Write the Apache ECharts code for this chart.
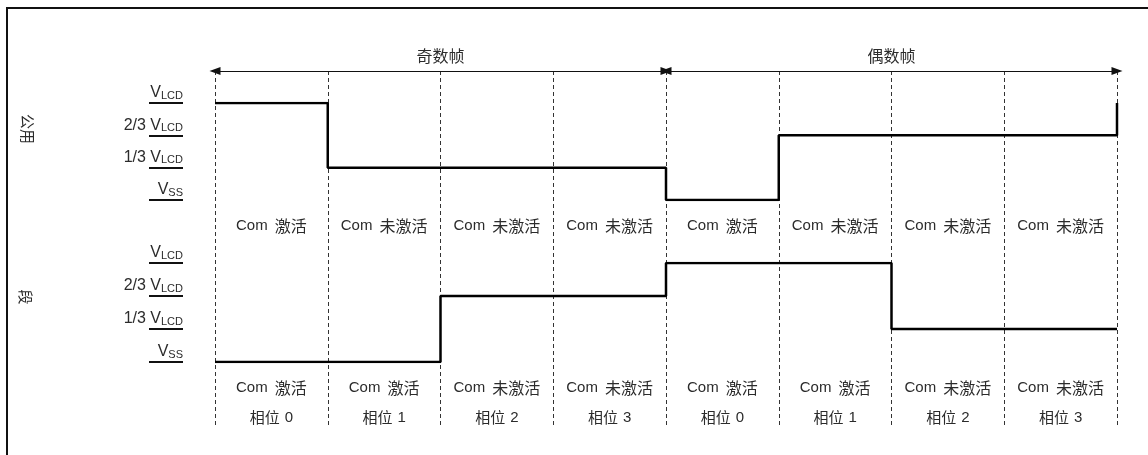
<!DOCTYPE html>
<html>
<head>
<meta charset="utf-8">
<script src="https://cdn.jsdelivr.net/npm/echarts@6/dist/echarts.min.js"></script>
<style>
  html, body { margin: 0; padding: 0; background: #fff; }
  #chart { width: 1148px; height: 455px; }
</style>
</head>
<body>
<div id="chart"></div>
<script>
// 帧 / 相位
const frameNames = ["奇数帧", "偶数帧"];
const frameBounds = [0, 4, 8];
const phases = ["相位 0", "相位 1", "相位 2", "相位 3", "相位 0", "相位 1", "相位 2", "相位 3"];

// 电平：0 = Vss, 1 = 1/3 VLCD, 2 = 2/3 VLCD, 3 = VLCD
const levelPrefix = ["", "1/3 ", "2/3 ", ""];
const levelSub = ["SS", "LCD", "LCD", "LCD"];

// 公用 波形（最后一个值是结束边界处的电平）
const comLevels = [3, 1, 1, 1, 0, 2, 2, 2, 3];
const comStates = ["Com 激活", "Com 未激活", "Com 未激活", "Com 未激活", "Com 激活", "Com 未激活", "Com 未激活", "Com 未激活"];

// 段 波形
const segLevels = [0, 0, 2, 2, 3, 3, 1, 1, 1];
const segStates = ["Com 激活", "Com 激活", "Com 未激活", "Com 未激活", "Com 激活", "Com 激活", "Com 未激活", "Com 未激活"];

const LATIN = "Liberation Sans, Arial, sans-serif";
const CJK = "Noto Sans CJK SC, sans-serif";
const TEXT = "#2b2b2b";

const chart = echarts.init(document.getElementById("chart"));

// 刻度标签：V 带下标
const levelFormatter = (v) => {
  return (levelPrefix[v] ? "{f|" + levelPrefix[v] + "}" : "") + "{v|V}{s|" + levelSub[v] + "}";
};
const levelRich = {
  f: { fontFamily: LATIN, fontSize: 16, color: TEXT, verticalAlign: "bottom", padding: [0, 0, 2, 0] },
  v: { fontFamily: LATIN, fontSize: 16, color: TEXT, verticalAlign: "bottom", padding: [0, 0, 2, 0] },
  s: { fontFamily: LATIN, fontSize: 11, color: TEXT, verticalAlign: "bottom", padding: [0, 0, 2, 0] },
};
const stateFormatter = (s) => {
  const i = s.indexOf(" ");
  return "{a|" + s.slice(0, i) + "}{b|" + s.slice(i + 1) + "}";
};
const stateRich = {
  a: { fontFamily: LATIN, fontSize: 15, color: TEXT, padding: [0, 7, 0, 0] },
  b: { fontFamily: CJK, fontSize: 16, color: TEXT },
};
const phaseRich = {
  a: { fontFamily: CJK, fontSize: 15, color: TEXT, padding: [0, 5, 0, 0] },
  b: { fontFamily: LATIN, fontSize: 15, color: TEXT },
};

// 左侧电平刻度（放在单独的窄 grid 里，下划线 = 刻度线）
const levelAxis = (gridIndex) => ({
  type: "value",
  gridIndex: gridIndex,
  min: 0,
  max: 3,
  interval: 1,
  axisLine: { show: false },
  axisTick: { show: true, length: 34, lineStyle: { color: "#111", width: 2 } },
  axisLabel: {
    margin: 0,
    verticalAlign: "bottom",
    formatter: levelFormatter,
    rich: levelRich,
  },
  splitLine: { show: false },
});

const hiddenY = (gridIndex, max) => ({
  type: "value",
  gridIndex: gridIndex,
  min: 0,
  max: max,
  show: false,
});

const hiddenX = (gridIndex) => ({
  type: "value",
  gridIndex: gridIndex,
  min: 0,
  max: 8,
  show: false,
});

const labelX = (gridIndex, data, margin, offset, rich) => ({
  type: "category",
  gridIndex: gridIndex,
  data: data,
  position: "bottom",
  offset: offset,
  axisLine: { show: false },
  axisTick: { show: false },
  axisLabel: { margin: margin, interval: 0, formatter: stateFormatter, rich: rich, color: TEXT },
});

chart.setOption({
  animation: false,
  backgroundColor: "#fff",
  grid: [
    // 0 外框 + 虚线
    { left: 215, right: 31, top: 71, bottom: 28 },
    // 1 公用
    { left: 215, right: 31, top: 103, height: 97 },
    // 2 段
    { left: 215, right: 31, top: 263, height: 99 },
    // 3/4 电平标签
    { left: 183, width: 32, top: 103, height: 97 },
    { left: 183, width: 32, top: 263, height: 99 },
  ],
  xAxis: [
    {
      type: "value",
      gridIndex: 0,
      min: 0,
      max: 8,
      interval: 1,
      axisLine: { show: false },
      axisTick: { show: false },
      axisLabel: { show: false },
      splitLine: { show: true, lineStyle: { color: "#333", width: 1, type: [4, 3] } },
    },
    {
      type: "category",
      gridIndex: 0,
      data: frameNames,
      position: "top",
      axisLine: { show: false },
      axisTick: { show: false },
      axisLabel: { margin: 7, fontFamily: CJK, fontSize: 16, color: TEXT },
    },
    hiddenX(1),
    labelX(1, comStates, 18, 0, stateRich),
    hiddenX(2),
    labelX(2, segStates, 18, 0, stateRich),
    labelX(2, phases, 18, 30, phaseRich),
    { type: "value", gridIndex: 3, show: false },
    { type: "value", gridIndex: 4, show: false },
  ],
  yAxis: [
    hiddenY(0, 1),
    hiddenY(1, 3),
    hiddenY(2, 3),
    levelAxis(3),
    levelAxis(4),
  ],
  graphic: [
    {
      type: "polyline",
      shape: { points: [[7, 460], [7, 8], [1160, 8]] },
      style: { stroke: "#111", lineWidth: 2, fill: null },
      silent: true,
    },
    {
      type: "text",
      x: 28,
      y: 129,
      rotation: -Math.PI / 2,
      style: { text: "公用", fontFamily: CJK, fontSize: 15, fill: TEXT, align: "center", verticalAlign: "middle" },
    },
    {
      type: "text",
      x: 26,
      y: 297,
      rotation: -Math.PI / 2,
      style: { text: "段", fontFamily: CJK, fontSize: 15, fill: TEXT, align: "center", verticalAlign: "middle" },
    },
  ],
  series: [
    {
      name: "帧",
      type: "lines",
      coordinateSystem: "cartesian2d",
      xAxisIndex: 0,
      yAxisIndex: 0,
      clip: false,
      symbol: ["triangle", "triangle"],
      symbolSize: [[8, 11], [8, 11]],
      symbolOffset: [0, "50%"],
      lineStyle: { color: "#111", width: 1, opacity: 1, curveness: 0 },
      itemStyle: { color: "#111" },
      data: frameNames.map((name, i) => ({
        name: name,
        coords: [[frameBounds[i], 1], [frameBounds[i + 1], 1]],
      })),
      z: 5,
    },
    {
      name: "公用",
      type: "line",
      xAxisIndex: 2,
      yAxisIndex: 1,
      step: "end",
      symbol: "none",
      lineStyle: { color: "#000", width: 2.5 },
      data: comLevels.map((v, i) => [i, v]),
      z: 6,
    },
    {
      name: "段",
      type: "line",
      xAxisIndex: 4,
      yAxisIndex: 2,
      step: "end",
      symbol: "none",
      lineStyle: { color: "#000", width: 2.5 },
      data: segLevels.map((v, i) => [i, v]),
      z: 6,
    },
  ],
});
</script>
</body>
</html>
